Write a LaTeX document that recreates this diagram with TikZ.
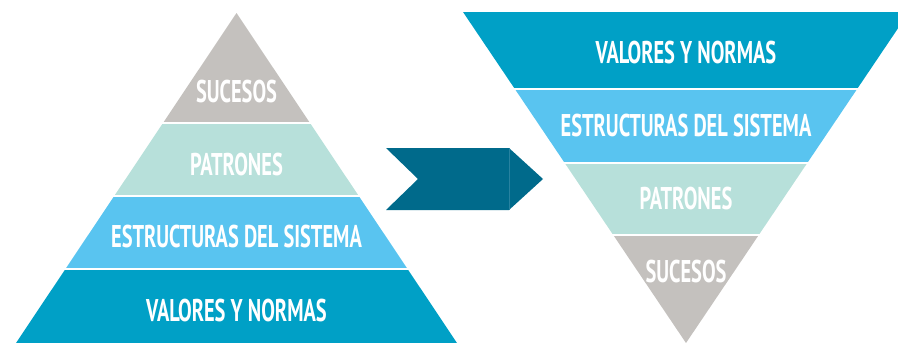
\documentclass[tikz,border=0pt]{standalone}
\usepackage{fontspec}
\newfontfamily\condfont{PT Sans}[FakeStretch=0.65]
\definecolor{cgrey}{RGB}{196,193,190}
\definecolor{cmint}{RGB}{183,224,218}
\definecolor{clblue}{RGB}{89,196,240}
\definecolor{cteal}{RGB}{0,160,198}
\definecolor{carrow}{RGB}{0,106,139}
\definecolor{cseam}{RGB}{40,130,160}
\tikzset{
  lbl/.style={anchor=base, inner sep=0pt, text=white, font=\condfont\bfseries\fontsize{31.4}{32}\selectfont},
}
\begin{document}
\begin{tikzpicture}[x=1pt,y=-1pt]
\useasboundingbox (0,0) rectangle (898,343);
\clip (0,0) rectangle (898,343);
% left pyramid
\begin{scope}
  \clip (236.5,13) -- (16,343) -- (457,343) -- cycle;
  \fill[cgrey]  (0,0)   rectangle (460,122);
  \fill[cmint]  (0,124) rectangle (460,195);
  \fill[clblue] (0,197) rectangle (460,268);
  \fill[cteal]  (0,270) rectangle (460,345);
\end{scope}
% right inverted pyramid
\begin{scope}
  \clip (463,12) -- (909,12) -- (686,343) -- cycle;
  \fill[cteal]  (460,12)  rectangle (910,88);
  \fill[clblue] (460,90)  rectangle (910,162);
  \fill[cmint]  (460,164) rectangle (910,234);
  \fill[cgrey]  (460,236) rectangle (910,345);
\end{scope}
% arrow
\fill[carrow] (386,148) -- (509,148) -- (543,179) -- (509,210) -- (386,210) -- (418,179) -- cycle;
\draw[cseam, line width=0.5pt] (509,148) -- (509,210);
% labels
\node[lbl] (l1) at (236.5,102) {SUCESOS};
\node[lbl] (l2) at (236.5,175) {PATRONES};
\node[lbl] (l3) at (236.5,247) {ESTRUCTURAS DEL SISTEMA};
\node[lbl] (l4) at (236.5,321) {VALORES Y NORMAS};
\node[lbl] (r1) at (686,63)  {VALORES Y NORMAS};
\node[lbl] (r2) at (686,136) {ESTRUCTURAS DEL SISTEMA};
\node[lbl] (r3) at (686,209) {PATRONES};
\node[lbl] (r4) at (686,282) {SUCESOS};
\end{tikzpicture}
\end{document}
